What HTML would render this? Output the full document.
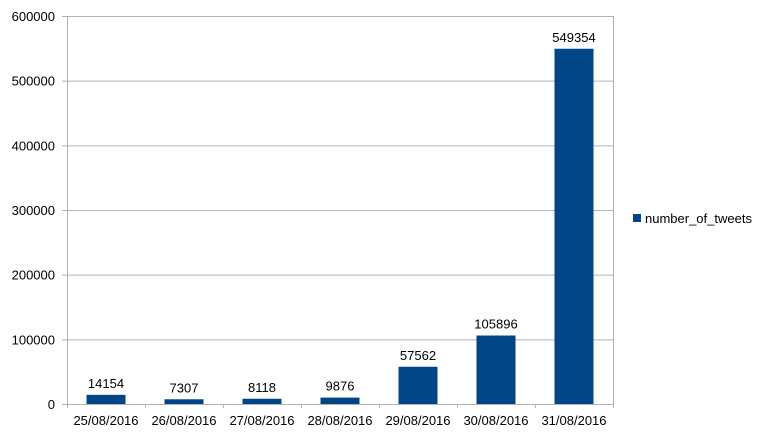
<!DOCTYPE html>
<html><head><meta charset="utf-8"><style>
body{margin:0;background:#fff;width:763px;height:437px;overflow:hidden}
svg{display:block;font-family:"Liberation Sans",sans-serif}
</style></head><body>
<svg id="chart" width="763" height="437"></svg>
<script>
const categories=["25/08/2016","26/08/2016","27/08/2016","28/08/2016","29/08/2016","30/08/2016","31/08/2016"];
const tweetCounts=[14154,7307,8118,9876,57562,105896,549354];
const yTicks=[0,100000,200000,300000,400000,500000,600000];
const seriesName="number_of_tweets";

const svg=document.getElementById('chart');
const NS="http://www.w3.org/2000/svg";
const L=67,R=613,T=16,B=404,yMax=600000;
const catW=(R-L)/categories.length;
const y=v=>B-(v/yMax)*(B-T);
const xc=i=>L+catW*(i+0.5);
function mk(tag,attrs,text){const e=document.createElementNS(NS,tag);for(const k in attrs)e.setAttribute(k,attrs[k]);if(text!==undefined)e.textContent=text;svg.appendChild(e);return e;}

yTicks.forEach(t=>{
  const g=mk('line',{x1:L-5,x2:R,y1:y(t)+0.5,y2:y(t)+0.5,stroke:'#b3b3b3','stroke-width':1});
  
  
  const lb=mk('text',{x:L-12,y:y(t)+5,'text-anchor':'end','font-size':13,fill:'#000'},String(t));
  
  
});
const ax=mk('line',{x1:L+0.5,x2:L+0.5,y1:T,y2:B+4,stroke:'#b3b3b3'});


const rx=mk('line',{x1:R+0.5,x2:R+0.5,y1:T,y2:B+4,stroke:'#b3b3b3'});


for(let i=1;i<categories.length;i++){
  const tk=mk('line',{x1:L+catW*i+0.5,x2:L+catW*i+0.5,y1:B,y2:B+4,stroke:'#b3b3b3'});
  
  
}
categories.forEach((c,i)=>{
  const v=tweetCounts[i];
  const bw=39;
  const r=mk('rect',{x:xc(i)-bw/2,y:y(v),width:bw,height:B-y(v),fill:'#004586'});
  
  
  const vl=mk('text',{x:xc(i),y:y(v)-7,'text-anchor':'middle','font-size':13},String(v));
  
  
  const cl=mk('text',{x:xc(i),y:425,'text-anchor':'middle','font-size':13},c);
  
  
});
const ls=mk('rect',{x:633,y:214,width:8,height:8,fill:'#004586'});


const lt=mk('text',{x:645,y:223,'font-size':13},seriesName);


</script>
</body></html>
